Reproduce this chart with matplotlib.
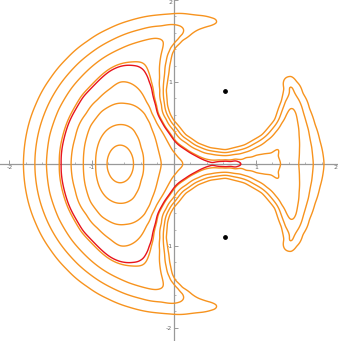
import numpy as np
import matplotlib
matplotlib.use("Agg")
import matplotlib.pyplot as plt

# ---- data (upper half; the figure is mirror-symmetric in y) ----
orange_levels = [1, 2, 3, 4, 5, 6, 7, 8]
red_level = 4.85
dots_x = [0.625, 0.625]
dots_y = [0.89, -0.89]

c1 = [(-0.81, 0), (-0.79, 0.11), (-0.74, 0.19), (-0.65, 0.23), (-0.56, 0.19), (-0.51, 0.11), (-0.49, 0)]
c2 = [(-0.95, 0), (-0.93, 0.2), (-0.86, 0.36), (-0.76, 0.45), (-0.65, 0.48), (-0.54, 0.45),
      (-0.46, 0.36), (-0.40, 0.2), (-0.37, 0)]
c3 = [(-1.10, 0), (-1.08, 0.25), (-1.01, 0.47), (-0.88, 0.64), (-0.72, 0.73), (-0.58, 0.735),
      (-0.44, 0.69), (-0.35, 0.61), (-0.29, 0.50), (-0.24, 0.36), (-0.20, 0.22), (-0.17, 0.10),
      (-0.15, 0)]
c4 = [(-1.25, 0), (-1.20, 0.32), (-1.065, 0.615), (-0.93, 0.78), (-0.77, 0.92), (-0.65, 1.0),
      (-0.50, 0.97), (-0.40, 0.88), (-0.33, 0.75), (-0.27, 0.62), (-0.21, 0.50), (-0.14, 0.39),
      (-0.08, 0.28), (-0.02, 0.17), (0.05, 0.08), (0.11, 0)]
c_red = [(-1.37, 0), (-1.34, 0.29), (-1.25, 0.56), (-1.10, 0.82), (-0.90, 1.03), (-0.78, 1.13),
         (-0.65, 1.19), (-0.50, 1.20), (-0.40, 1.17), (-0.34, 1.10), (-0.30, 1.00), (-0.26, 0.86),
         (-0.23, 0.75), (-0.19, 0.60), (-0.11, 0.45), (-0.01, 0.31), (0.15, 0.17), (0.30, 0.08),
         (0.40, 0.035), (0.47, 0), (0.77, 0)]
c5 = [(0.55, 0.055), (0.63, 0.06), (0.75, 0.07), (0.88, 0.09), (1.0, 0.11), (1.10, 0.125),
      (1.18, 0.12), (1.25, 0.09), (1.29, 0.05), (1.31, 0)]
c6 = [(-1.55, 0), (-1.51, 0.35), (-1.40, 0.665), (-1.23, 0.943), (-1.02, 1.167), (-0.78, 1.34),
      (-0.55, 1.449), (-0.35, 1.51), (-0.22, 1.534), (-0.14, 1.50), (-0.13, 1.44), (-0.15, 1.35),
      (-0.17, 1.22), (-0.17, 1.05), (-0.165, 0.90), (-0.145, 0.72), (-0.09, 0.55), (0.0, 0.41),
      (0.15, 0.26), (0.30, 0.17), (0.45, 0.125), (0.63, 0.10), (0.80, 0.12), (0.90, 0.15),
      (1.0, 0.20), (1.13, 0.285), (1.24, 0.39), (1.31, 0.495), (1.37, 0.60), (1.41, 0.67),
      (1.45, 0.675), (1.49, 0.61), (1.51, 0.50), (1.525, 0.35), (1.53, 0.18), (1.52, 0)]
c7 = [(-1.69, 0), (-1.65, 0.365), (-1.55, 0.673), (-1.38, 0.976), (-1.17, 1.22), (-0.92, 1.418),
      (-0.65, 1.56), (-0.40, 1.642), (-0.15, 1.683), (0.05, 1.689), (0.10, 1.665), (0.125, 1.625),
      (0.11, 1.58), (0.06, 1.52), (0.0, 1.45), (-0.05, 1.37), (-0.09, 1.25), (-0.11, 1.10),
      (-0.125, 0.90), (-0.11, 0.72), (-0.07, 0.58), (0.0, 0.475), (0.15, 0.31), (0.30, 0.214),
      (0.45, 0.16), (0.63, 0.14), (0.878, 0.194), (1.10, 0.323), (1.266, 0.52), (1.354, 0.761),
      (1.38, 0.92), (1.40, 1.00), (1.45, 0.93), (1.52, 0.79), (1.58, 0.62), (1.64, 0.42),
      (1.68, 0.21), (1.70, 0)]
c8 = [(-1.83, 0), (-1.79, 0.38), (-1.68, 0.725), (-1.50, 1.048), (-1.30, 1.288), (-1.05, 1.499),
      (-0.80, 1.646), (-0.55, 1.745), (-0.30, 1.805), (-0.05, 1.829), (0.20, 1.825), (0.35, 1.81),
      (0.46, 1.78), (0.53, 1.72), (0.45, 1.685), (0.35, 1.655), (0.22, 1.59), (0.10, 1.51),
      (0.02, 1.43), (-0.02, 1.35), (-0.05, 1.20), (-0.07, 1.05), (-0.095, 0.90), (-0.08, 0.72),
      (-0.04, 0.60), (0.0, 0.53), (0.15, 0.35), (0.30, 0.25), (0.45, 0.195), (0.63, 0.17),
      (0.864, 0.232), (1.075, 0.354), (1.231, 0.54), (1.315, 0.768), (1.36, 0.92), (1.41, 1.03),
      (1.43, 1.08), (1.49, 1.00), (1.57, 0.86), (1.65, 0.68), (1.72, 0.48), (1.78, 0.28),
      (1.82, 0.10), (1.83, 0)]

# values at the bottom of the well, along the flat channel, inside the bites and outside
extra_pts = [(-0.65, 0, 0.0),
             (0.55, 0, 4.82), (0.62, 0, 4.82), (0.70, 0, 4.825), (0.85, 0, 4.95), (0.95, 0, 4.97),
             (1.10, 0, 4.985),
             (0.625, 0.89, 16.0), (0.175, 0.89, 12.0), (1.075, 0.89, 12.0), (0.625, 1.34, 12.0),
             (0.625, 0.44, 12.0), (0.31, 1.21, 12.0), (0.94, 1.21, 12.0), (0.31, 0.57, 12.0),
             (0.94, 0.57, 12.0),
             (1.1, 1.55, 8.5), (0.9, 1.85, 9.2), (1.5, 1.35, 9.2), (1.95, 0.8, 9.3),
             (-2.1, 0, 9.9), (-2.1, 1.5, 11.5), (-1.2, 2.1, 10.5), (0.3, 2.05, 9.6), (2.0, 0, 9.3),
             (1.95, 2.0, 11.0), (-2.1, 2.1, 12.0)]

curves = [(c1, 1), (c2, 2), (c3, 3), (c4, 4), (c_red, red_level), (c5, 5), (c6, 6), (c7, 7), (c8, 8)]

# ---- smooth field through the traced points (thin-plate spline) ----
px, py, pv = [], [], []
for pts, lev in curves:
    for (x, y) in pts:
        px.append(x); py.append(y); pv.append(lev)
        if y != 0:
            px.append(x); py.append(-y); pv.append(lev)
for (x, y, v) in extra_pts:
    px.append(x); py.append(y); pv.append(v)
    if y != 0:
        px.append(x); py.append(-y); pv.append(v)
px = np.array(px); py = np.array(py); pv = np.array(pv)

def kern(r2):
    with np.errstate(divide="ignore", invalid="ignore"):
        k = 0.5 * r2 * np.log(r2)
    return np.where(r2 > 0, k, 0.0)

n = len(px)
K = kern((px[:, None] - px[None, :]) ** 2 + (py[:, None] - py[None, :]) ** 2) + 3e-3 * np.eye(n)
P = np.column_stack([np.ones(n), px, py])
A = np.zeros((n + 3, n + 3))
A[:n, :n] = K; A[:n, n:] = P; A[n:, :n] = P.T
b = np.concatenate([pv, np.zeros(3)])
sol = np.linalg.solve(A, b)
w, a = sol[:n], sol[n:]

xmin, xmax, ymin, ymax = -2.115, 1.98, -2.16, 2.0
gx = np.linspace(xmin, xmax, 420)
gy = np.linspace(ymin, ymax, 420)
GX, GY = np.meshgrid(gx, gy)
gxf, gyf = GX.ravel(), GY.ravel()
F = np.zeros_like(gxf)
for i0 in range(0, n, 50):
    sl = slice(i0, min(i0 + 50, n))
    F += kern((gxf[:, None] - px[None, sl]) ** 2 + (gyf[:, None] - py[None, sl]) ** 2) @ w[sl]
F += a[0] + a[1] * gxf + a[2] * gyf
F = F.reshape(GX.shape)

# ---- draw ----
fig = plt.figure(figsize=(3.38, 3.41), dpi=100)
ax = fig.add_axes([0, 0, 1, 1])
ax.set_xlim(xmin, xmax)
ax.set_ylim(ymin, ymax)

ax.contour(GX, GY, F, levels=orange_levels, colors="#f7931e", linewidths=1.0, zorder=2)
ax.contour(GX, GY, F, levels=[red_level], colors="#e8141c", linewidths=1.0, zorder=3)
ax.scatter(dots_x, dots_y, s=6, color="black", zorder=4)

axis_col = "#999999"
for side in ["top", "right"]:
    ax.spines[side].set_visible(False)
ax.spines["left"].set_position(("data", 0))
ax.spines["bottom"].set_position(("data", 0))
for side in ["left", "bottom"]:
    ax.spines[side].set_color(axis_col)
    ax.spines[side].set_linewidth(0.9)
    ax.spines[side].set_zorder(1)

xt = [-2, -1, 1, 2]
yt = [-2, -1, 1, 2]
ax.set_xticks(xt)
ax.set_yticks(yt)
ax.set_xticklabels([str(v) for v in xt])
ax.set_yticklabels([str(v) for v in yt])
ax.set_xticks(np.arange(-2.0, 1.99, 0.2), minor=True)
ax.set_yticks(np.arange(-2.0, 1.99, 0.2), minor=True)
ax.tick_params(which="major", direction="in", length=3, width=0.7, color=axis_col,
               labelsize=4.5, labelcolor="#666666", pad=1)
ax.tick_params(which="minor", direction="in", length=1.5, width=0.5, color=axis_col)
ax.get_xticklabels()[-1].set_horizontalalignment("right")
ax.get_yticklabels()[-1].set_verticalalignment("top")

fig.savefig("out.png", dpi=100)
